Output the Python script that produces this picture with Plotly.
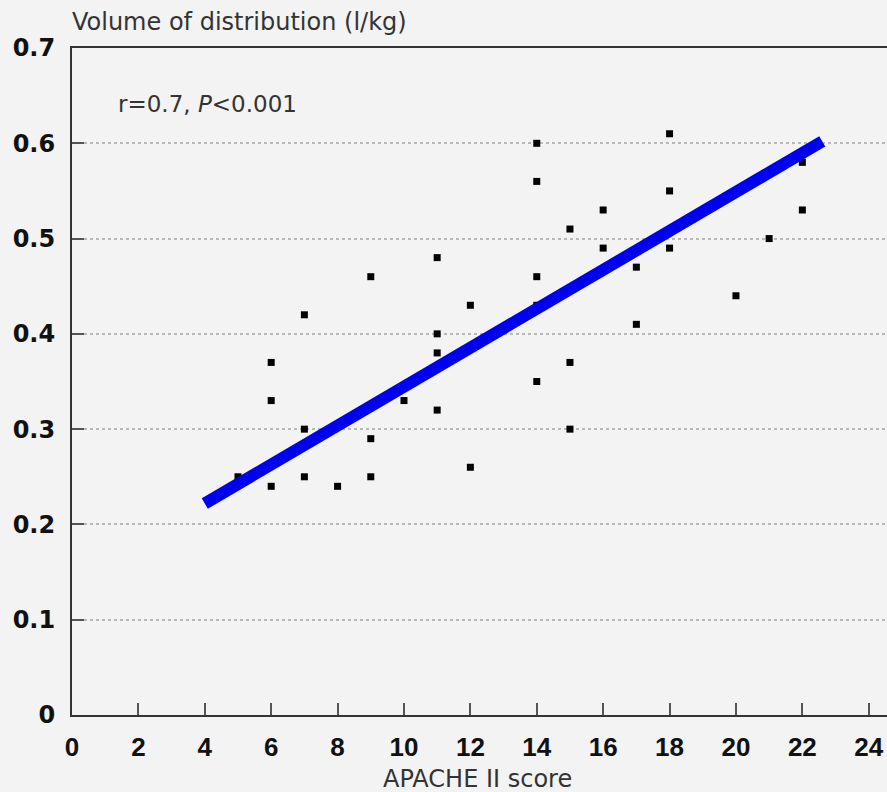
import plotly.graph_objects as go

# APACHE II score (x) and volume of distribution in l/kg (y)
apache = [5, 6, 6, 6, 7, 7, 7, 8, 9, 9, 9, 10, 11, 11, 11, 11, 12, 12,
          14, 14, 14, 14, 14, 15, 15, 15, 16, 16, 17, 17, 18, 18, 18,
          20, 21, 22, 22]
vd = [0.25, 0.24, 0.33, 0.37, 0.42, 0.30, 0.25, 0.24, 0.46, 0.29, 0.25,
      0.33, 0.48, 0.40, 0.38, 0.32, 0.43, 0.26,
      0.60, 0.56, 0.46, 0.43, 0.35, 0.51, 0.37, 0.30, 0.53, 0.49, 0.47, 0.41,
      0.61, 0.55, 0.49, 0.44, 0.50, 0.58, 0.53]

# regression line end points
fit_x = [4.0, 22.6]
fit_y = [0.222, 0.602]

x_ticks = [0, 2, 4, 6, 8, 10, 12, 14, 16, 18, 20, 22, 24]
y_ticks = [0, 0.1, 0.2, 0.3, 0.4, 0.5, 0.6, 0.7]
y_tick_text = ["0", "0.1", "0.2", "0.3", "0.4", "0.5", "0.6", "0.7"]

BG = "#f3f3f3"
FONT = "Liberation Sans"
TFONT = "DejaVu Sans"

fig = go.Figure()
fig.add_trace(go.Scatter(
    x=apache, y=vd, mode="markers",
    marker=dict(symbol="square", size=7, color="#000000"),
    showlegend=False, cliponaxis=False))
fig.add_trace(go.Scatter(
    x=fit_x, y=fit_y, mode="lines",
    line=dict(color="#0000f0", width=12),
    showlegend=False))

fig.update_layout(
    width=887, height=792,
    margin=dict(l=72, r=0, t=48, b=77),
    paper_bgcolor=BG, plot_bgcolor=BG,
    font=dict(family=FONT, color="#222"),
    xaxis=dict(
        range=[0, 24.55], tickvals=x_ticks, ticktext=[str(v) for v in x_ticks],
        ticks="inside", ticklen=12, tickwidth=1.5, tickcolor="#555",
        showline=True, linecolor="#333", linewidth=2, mirror=True,
        showgrid=False, zeroline=False,
        tickfont=dict(family=FONT, size=26, color="#111", weight="bold"),
        ticklabelstandoff=8,
    ),
    yaxis=dict(
        range=[0, 0.7], tickvals=y_ticks, ticktext=y_tick_text,
        ticks="inside", ticklen=12, tickwidth=1.5, tickcolor="#555",
        showline=True, linecolor="#333", linewidth=2,
        showgrid=True, gridcolor="#b8b8b8", gridwidth=1.5, griddash="dot",
        zeroline=False,
        tickfont=dict(family=TFONT, size=24, color="#111", weight="bold"),
        ticklabelstandoff=10,
    ),
    annotations=[
        dict(text="Volume of distribution (l/kg)", x=70, y=22,
             showarrow=False, xanchor="left", yanchor="middle",
             font=dict(family=TFONT, size=24, color="#333")),
        dict(text="APACHE II score", x=477, y=779,
             showarrow=False, xanchor="center", yanchor="middle",
             font=dict(family=TFONT, size=24, color="#333")),
        dict(text="r=0.7, <i>P</i><0.001", x=116, y=104,
             showarrow=False, xanchor="left", yanchor="middle",
             font=dict(family=TFONT, size=23, color="#333")),
    ],
)

# convert pixel-placed annotations to paper coordinates
pw, ph = 887 - 72 - 0, 792 - 48 - 77
for a in fig.layout.annotations:
    px, py = a.x, a.y
    a.xref = "paper"
    a.yref = "paper"
    a.x = (px - 72) / pw
    a.y = (792 - 77 - py) / ph

fig.write_html(
    "out.html",
    config={"displayModeBar": False},
    post_script="document.body.style.margin='0';document.body.style.overflow='hidden';",
)
